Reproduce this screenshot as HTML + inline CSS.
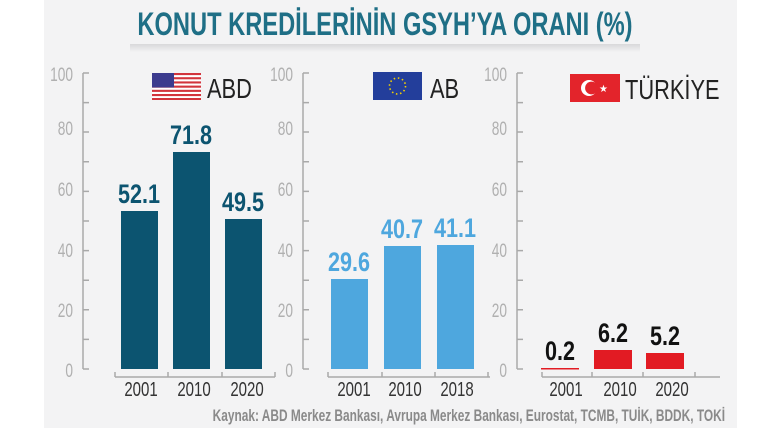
<!DOCTYPE html>
<html><head><meta charset="utf-8"><style>
body{margin:0;background:#fff;width:770px;height:433px;overflow:hidden}
svg{display:block}
text{font-family:"Liberation Sans",sans-serif}
</style></head><body>
<svg width="770" height="433" viewBox="0 0 770 433">
<defs><linearGradient id="sh" x1="0" x2="0" y1="0" y2="1"><stop offset="0" stop-color="#d8d8da"/><stop offset="1" stop-color="#f3f3f4"/></linearGradient></defs>
<rect x="44" y="0" width="693" height="428" fill="#f3f3f4"/>
<rect x="130" y="44" width="510" height="8" fill="url(#sh)"/>
<text x="385" y="35" text-anchor="middle" font-size="32" font-weight="bold" fill="#1f6f86" transform="translate(385 0) scale(0.74 1) translate(-385 0)">KONUT KREDİLERİNİN GSYH’YA ORANI (%)</text>
<g stroke="#a9a9a9" stroke-width="1.5" fill="none">
<path d="M83 73V369M83 73h6M83 102.6h6M83 132h6M83 161.8h6M83 191.4h6M83 221h6M83 250.6h6M83 280.2h6M83 309.8h6M83 339.4h6M83 369h6"/>
<path d="M303 73V369M303 73h6M303 102.6h6M303 132h6M303 161.8h6M303 191.4h6M303 221h6M303 250.6h6M303 280.2h6M303 309.8h6M303 339.4h6M303 369h6"/>
<path d="M517 73V369M517 73h6M517 102.6h6M517 132h6M517 161.8h6M517 191.4h6M517 221h6M517 250.6h6M517 280.2h6M517 309.8h6M517 339.4h6M517 369h6"/>
<path d="M115 377H275M115 377v-5M168 377v-5M222 377v-5M275 377v-5"/>
<path d="M328 377H490M328 377v-5M382 377v-5M435 377v-5M488 377v-5"/>
<path d="M542 377H720M542 377v-5M592 377v-5M643 377v-5M695 377v-5"/>
</g>
<g font-size="19" fill="#b0b0b0" text-anchor="end">
<g transform="translate(73 0) scale(0.72 1)"><text x="0" y="81">100</text><text x="0" y="135">80</text><text x="0" y="196">60</text><text x="0" y="257">40</text><text x="0" y="317">20</text><text x="0" y="377">0</text></g>
<g transform="translate(293 0) scale(0.72 1)"><text x="0" y="81">100</text><text x="0" y="135">80</text><text x="0" y="196">60</text><text x="0" y="257">40</text><text x="0" y="317">20</text><text x="0" y="377">0</text></g>
<g transform="translate(507 0) scale(0.72 1)"><text x="0" y="81">100</text><text x="0" y="135">80</text><text x="0" y="196">60</text><text x="0" y="257">40</text><text x="0" y="317">20</text><text x="0" y="377">0</text></g>
</g>
<g fill="#0c5470"><rect x="121" y="211" width="37" height="158"/><rect x="173" y="152" width="37" height="217"/><rect x="225" y="219" width="37" height="150"/></g>
<g fill="#4ea7de"><rect x="331" y="279" width="37" height="90"/><rect x="384" y="246" width="37" height="123"/><rect x="437" y="245" width="37" height="124"/></g>
<g fill="#e21b23"><rect x="541" y="368" width="38" height="1.5"/><rect x="594" y="350" width="38" height="19"/><rect x="646" y="353" width="38" height="16"/></g>
<g font-size="27" font-weight="bold" text-anchor="middle">
<g fill="#0c5470"><text x="139" y="203" transform="translate(139 0) scale(0.8 1) translate(-139 0)">52.1</text><text x="191" y="144" transform="translate(191 0) scale(0.8 1) translate(-191 0)">71.8</text><text x="243" y="211" transform="translate(243 0) scale(0.8 1) translate(-243 0)">49.5</text></g>
<g fill="#4ea7de"><text x="349" y="271" transform="translate(349 0) scale(0.8 1) translate(-349 0)">29.6</text><text x="402" y="238" transform="translate(402 0) scale(0.8 1) translate(-402 0)">40.7</text><text x="455" y="237" transform="translate(455 0) scale(0.8 1) translate(-455 0)">41.1</text></g>
<g fill="#111"><text x="560" y="360" transform="translate(560 0) scale(0.8 1) translate(-560 0)">0.2</text><text x="613" y="342" transform="translate(613 0) scale(0.8 1) translate(-613 0)">6.2</text><text x="665" y="345" transform="translate(665 0) scale(0.8 1) translate(-665 0)">5.2</text></g>
</g>
<g font-size="20" fill="#333" text-anchor="middle">
<text x="141" y="396" transform="translate(141 0) scale(0.75 1) translate(-141 0)">2001</text><text x="194" y="396" transform="translate(194 0) scale(0.75 1) translate(-194 0)">2010</text><text x="247" y="396" transform="translate(247 0) scale(0.75 1) translate(-247 0)">2020</text>
<text x="354" y="396" transform="translate(354 0) scale(0.75 1) translate(-354 0)">2001</text><text x="405" y="396" transform="translate(405 0) scale(0.75 1) translate(-405 0)">2010</text><text x="457" y="396" transform="translate(457 0) scale(0.75 1) translate(-457 0)">2018</text>
<text x="566" y="396" transform="translate(566 0) scale(0.75 1) translate(-566 0)">2001</text><text x="620" y="396" transform="translate(620 0) scale(0.75 1) translate(-620 0)">2010</text><text x="672" y="396" transform="translate(672 0) scale(0.75 1) translate(-672 0)">2020</text>
</g>
<g>
<rect x="152" y="73" width="49" height="27" fill="#fff"/>
<g fill="#d2343c"><rect x="152" y="73" width="49" height="2.1"/><rect x="152" y="77.2" width="49" height="2.1"/><rect x="152" y="81.4" width="49" height="2.1"/><rect x="152" y="85.6" width="49" height="2.1"/><rect x="152" y="89.8" width="49" height="2.1"/><rect x="152" y="94" width="49" height="2.1"/><rect x="152" y="98" width="49" height="2"/></g>
<rect x="152" y="73" width="22" height="14.5" fill="#3c3b8e"/>
<text x="207" y="98" font-size="28" fill="#222" transform="translate(207 0) scale(0.78 1) translate(-207 0)">ABD</text>
<rect x="373" y="72" width="49" height="28" fill="#233e9b"/>
<circle cx="397.5" cy="86" r="8" fill="none" stroke="#f5d000" stroke-width="1.6" stroke-dasharray="1.5 2.7"/>
<text x="430" y="98" font-size="28" fill="#222" transform="translate(430 0) scale(0.78 1) translate(-430 0)">AB</text>
<rect x="570" y="74" width="50" height="28" fill="#e3242b"/>
<circle cx="589" cy="88" r="8" fill="#fff"/><circle cx="591.5" cy="88" r="6.4" fill="#e3242b"/>
<text x="599" y="92" font-size="10" fill="#fff">★</text>
<text x="625" y="99" font-size="28" fill="#222" transform="translate(625 0) scale(0.78 1) translate(-625 0)">TÜRKİYE</text>
</g>
<text x="725" y="421" text-anchor="end" font-size="17" font-weight="bold" fill="#8a8a8a" transform="translate(725 0) scale(0.7 1) translate(-725 0)">Kaynak: ABD Merkez Bankası, Avrupa Merkez Bankası, Eurostat, TCMB, TUİK, BDDK, TOKİ</text>
</svg>
</body></html>
